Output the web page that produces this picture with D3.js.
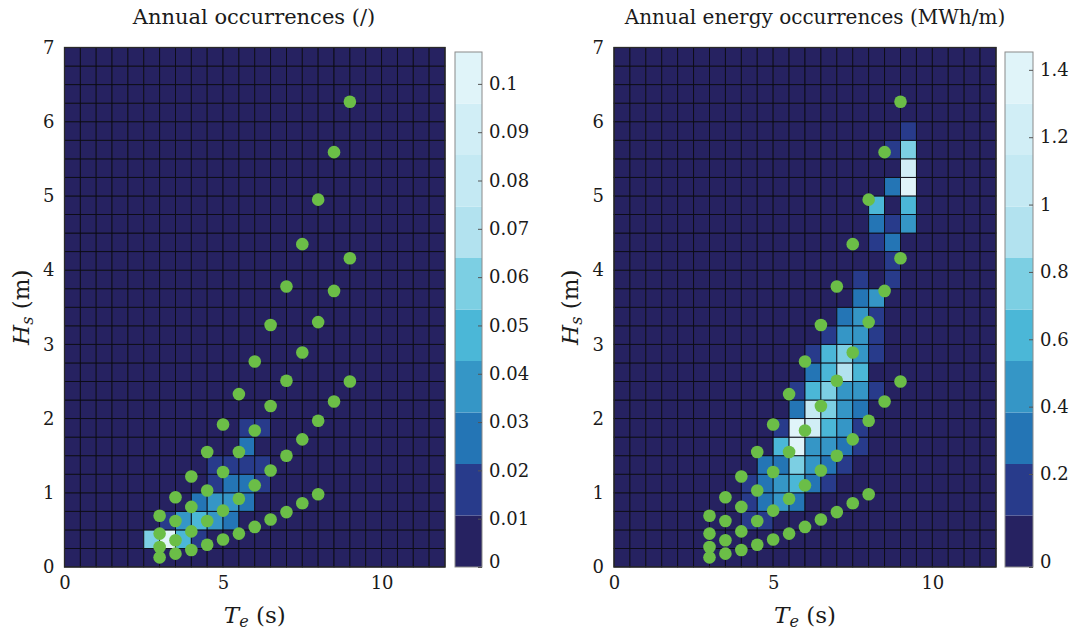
<!DOCTYPE html>
<html><head><meta charset="utf-8">
<script src="https://cdn.jsdelivr.net/npm/d3@7"></script>
<style>
body{margin:0;background:#fff}
svg{display:block}
text{font-family:"DejaVu Serif","Liberation Serif",serif;fill:#1a1a1a}
</style>
</head><body>
<svg id="c" width="1069" height="632"></svg>
<script>
// ---------- data ----------
const teBins = [0,0.5,1,1.5,2,2.5,3,3.5,4,4.5,5,5.5,6,6.5,7,7.5,8,8.5,9,9.5,10,10.5,11,11.5];
const hsBins = [0,0.25,0.5,0.75,1,1.25,1.5,1.75,2,2.25,2.5,2.75,3,3.25,3.5,3.75,4,4.25,4.5,4.75,5,5.25,5.5,5.75,6,6.25,6.5,6.75];
const teStep = 0.5, hsStep = 0.25;

// annual occurrences (/) : [Te lower edge, Hs lower edge, value]
const occCells = [
  [2.5,0.25,0.059],[3.0,0.25,0.1066],[3.5,0.25,0.048],[4.0,0.25,0.016],
  [3.0,0.5,0.016],[3.5,0.5,0.037],[4.0,0.5,0.048],[4.5,0.5,0.037],[5.0,0.5,0.027],
  [4.0,0.75,0.027],[4.5,0.75,0.037],[5.0,0.75,0.037],[5.5,0.75,0.027],
  [4.5,1.0,0.016],[5.0,1.0,0.027],[5.5,1.0,0.027],[6.0,1.0,0.016],
  [4.5,1.25,0.016],[5.0,1.25,0.016],[5.5,1.25,0.016],[6.0,1.25,0.016],
  [5.5,1.5,0.027],
  [5.5,1.75,0.016],[6.0,1.75,0.016]
];

// annual energy occurrences (MWh/m)
const energyCells = [
  [9.0,5.75,0.22],
  [8.5,5.5,0.22],[9.0,5.5,0.80],
  [9.0,5.25,1.30],
  [8.5,5.0,0.36],[9.0,5.0,1.36],
  [8.0,4.75,0.65],[9.0,4.75,0.65],
  [8.0,4.5,0.36],[8.5,4.5,0.22],[9.0,4.5,0.51],
  [8.0,4.25,0.22],[8.5,4.25,0.36],
  [8.5,4.0,0.22],
  [7.5,3.75,0.22],[8.5,3.75,0.22],
  [7.5,3.5,0.36],[8.0,3.5,0.51],
  [7.0,3.25,0.36],[7.5,3.25,0.51],[8.0,3.25,0.22],
  [6.5,3.0,0.22],[7.0,3.0,0.51],[7.5,3.0,0.51],[8.0,3.0,0.22],
  [6.0,2.75,0.22],[6.5,2.75,0.65],[7.0,2.75,0.80],[7.5,2.75,0.51],[8.0,2.75,0.22],
  [6.0,2.5,0.36],[6.5,2.5,0.65],[7.0,2.5,0.94],[7.5,2.5,0.65],
  [5.5,2.25,0.22],[6.0,2.25,0.65],[6.5,2.25,0.80],[7.0,2.25,0.51],[7.5,2.25,0.51],[8.0,2.25,0.22],
  [5.5,2.0,0.36],[6.0,2.0,1.09],[6.5,2.0,0.80],[7.0,2.0,0.51],[7.5,2.0,0.36],
  [5.0,1.75,0.22],[5.5,1.75,1.453],[6.0,1.75,1.25],[6.5,1.75,0.65],[7.0,1.75,0.51],[7.5,1.75,0.22],
  [5.0,1.5,0.65],[5.5,1.5,1.40],[6.0,1.5,0.51],[6.5,1.5,0.51],[7.0,1.5,0.36],[7.5,1.5,0.22],
  [4.5,1.25,0.36],[5.0,1.25,0.36],[5.5,1.25,0.80],[6.0,1.25,0.51],[6.5,1.25,0.36],[7.0,1.25,0.22],
  [4.0,1.0,0.22],[4.5,1.0,0.36],[5.0,1.0,0.51],[5.5,1.0,0.65],[6.0,1.0,0.36],[6.5,1.0,0.22],
  [4.0,0.75,0.22],[4.5,0.75,0.36],[5.0,0.75,0.51],[5.5,0.75,0.36],
  [4.0,0.5,0.22],[4.5,0.5,0.22]
];

// representative sea states (green dots)
const stateTe = [
  3,3.5,4,4.5,5,5.5,6,6.5,7,7.5,8,8.5,9,
  3,3.5,4,4.5,5,5.5,6,6.5,7,7.5,8,8.5,9,
  3,3.5,4,4.5,5,5.5,6,6.5,7,7.5,8,8.5,9,
  3,3.5,4,4.5,5,5.5,6,6.5,7,7.5,8
];
const stateHs = [
  0.69,0.94,1.22,1.55,1.92,2.33,2.77,3.26,3.78,4.35,4.95,5.59,6.27,
  0.45,0.62,0.81,1.03,1.28,1.55,1.84,2.17,2.51,2.89,3.30,3.72,4.16,
  0.27,0.36,0.48,0.62,0.76,0.92,1.10,1.30,1.50,1.72,1.97,2.23,2.50,
  0.13,0.18,0.23,0.30,0.37,0.45,0.54,0.64,0.74,0.86,0.98
];

const xTicks = [0,5,10];
const yTicks = [0,1,2,3,4,5,6,7];
const occTicks = [0,0.01,0.02,0.03,0.04,0.05,0.06,0.07,0.08,0.09,0.1];
const occTickLabels = ["0","0.01","0.02","0.03","0.04","0.05","0.06","0.07","0.08","0.09","0.1"];
const energyTicks = [0,0.2,0.4,0.6,0.8,1,1.2,1.4];
const energyTickLabels = ["0","0.2","0.4","0.6","0.8","1","1.2","1.4"];
const occRange = [0, 0.1066];
const energyRange = [0, 1.453];
// colour-bar tick placement (value -> position breakpoints)
const occBarStops = [0, 0.1066];
const energyBarStops = [0, 0.2, 1.453];

const palette = ["#262261","#283b8b","#2475b5","#3596c6","#4bb7d7","#7ccfe3","#b2e2ef","#c4e9f3","#d1eef6","#e0f4f9"];

// ---------- drawing ----------
const svg = d3.select("#c");
const yTop = 47.5, yBot = 567, cbTop = 52;
const FONT = "DejaVu Serif";

function panel(opt){
  const x = d3.scaleLinear().domain([0,12]).range([opt.x0, opt.x1]);
  const y = d3.scaleLinear().domain([0,7]).range([yBot, yTop]);
  const color = d3.scaleQuantize().domain(opt.range).range(palette);
  const g = svg.append("g");

  const lookup = new Map(opt.cells.map(c => [c[0]+"_"+c[1], c[2]]));
  const grid = [];
  hsBins.forEach(h => teBins.forEach(t => grid.push([t,h, lookup.has(t+"_"+h) ? lookup.get(t+"_"+h) : 0])));
  g.selectAll("rect.cell").data(grid).join("rect")
    .attr("x", d => x(d[0])).attr("y", d => y(d[1]+hsStep))
    .attr("width", d => x(d[0]+teStep)-x(d[0]))
    .attr("height", d => y(d[1])-y(d[1]+hsStep))
    .attr("fill", d => color(d[2]))
    .attr("stroke", "#0c0c14").attr("stroke-width", 0.9);

  g.append("rect").attr("x", opt.x0).attr("y", yTop).attr("width", opt.x1-opt.x0).attr("height", yBot-yTop)
    .attr("fill","none").attr("stroke","#2a2a2a").attr("stroke-width",1.3);

  g.selectAll("circle").data(stateTe.map((t,i)=>[t,stateHs[i]])).join("circle")
    .attr("cx", d=>x(d[0])).attr("cy", d=>y(d[1])).attr("r", 6.3)
    .attr("fill","#6bbe47");

  const xa = d3.axisBottom(x).tickValues(xTicks).tickSize(0).tickPadding(9).tickFormat(d3.format("d"));
  const ga = g.append("g").attr("transform",`translate(0,${yBot})`).call(xa);
  ga.select(".domain").remove();
  ga.selectAll("text").attr("font-size",18).attr("font-family",FONT).attr("fill","#1a1a1a");
  const ya = d3.axisLeft(y).tickValues(yTicks).tickSize(0).tickPadding(10).tickFormat(d3.format("d"));
  const gy = g.append("g").attr("transform",`translate(${opt.x0},0)`).call(ya);
  gy.select(".domain").remove();
  gy.selectAll("text").attr("font-size",18).attr("font-family",FONT).attr("fill","#1a1a1a");

  g.append("text").attr("x",opt.titleX).attr("y",24).attr("text-anchor","middle")
    .attr("font-size",opt.titleSize).text(opt.title);

  const xl = g.append("text").attr("x",(opt.x0+opt.x1)/2).attr("y",623).attr("text-anchor","middle").attr("font-size",23);
  xl.append("tspan").attr("font-style","italic").text("T");
  xl.append("tspan").attr("font-style","italic").attr("font-size",16).attr("dy",4).text("e");
  xl.append("tspan").attr("dy",-4).text(" (s)");

  const yl = g.append("text").attr("transform",`translate(${opt.x0-36},${(yTop+yBot)/2}) rotate(-90)`)
    .attr("text-anchor","middle").attr("font-size",23);
  yl.append("tspan").attr("font-style","italic").text("H");
  yl.append("tspan").attr("font-style","italic").attr("font-size",16).attr("dy",4).text("s");
  yl.append("tspan").attr("dy",-4).text(" (m)");

  // colour bar: equal bands
  const cb = svg.append("g");
  const band = d3.scaleLinear().domain([0, palette.length]).range([yBot, cbTop]);
  cb.selectAll("rect.band").data(palette).join("rect")
    .attr("x", opt.cbx).attr("width", opt.cbw)
    .attr("y", (c,i)=>band(i+1))
    .attr("height", (c,i)=>band(i)-band(i+1))
    .attr("fill", c=>c);
  cb.append("rect").attr("x",opt.cbx).attr("y",cbTop).attr("width",opt.cbw).attr("height",yBot-cbTop)
    .attr("fill","none").attr("stroke","#8a8a8a").attr("stroke-width",1);
  const cyRange = opt.stops.map((v,i)=> i===0 ? yBot : (i===opt.stops.length-1 ? cbTop : opt.stopPx[i]));
  const cy = d3.scaleLinear().domain(opt.stops).range(cyRange);
  const ca = d3.axisRight(cy).tickValues(opt.ticks).tickSize(-4).tickPadding(7)
    .tickFormat((d,i)=>opt.tickLabels[i]);
  const gc = cb.append("g").attr("transform",`translate(${opt.cbx+opt.cbw},0)`).call(ca);
  gc.select(".domain").remove();
  gc.selectAll("line").attr("stroke","#555");
  gc.selectAll("text").attr("font-size",18).attr("font-family",FONT).attr("fill","#1a1a1a");
  gc.selectAll(".tick").filter(d=>d===0).select("text").attr("dy","0.05em");
}

panel({x0:64.5, x1:445, cells:occCells, range:occRange, title:"Annual occurrences (/)", titleX:254, titleSize:21,
       cbx:455, cbw:27, ticks:occTicks, tickLabels:occTickLabels, stops:occBarStops, stopPx:[]});
panel({x0:614, x1:996, cells:energyCells, range:energyRange, title:"Annual energy occurrences (MWh/m)", titleX:815, titleSize:20,
       cbx:1005, cbw:28, ticks:energyTicks, tickLabels:energyTickLabels, stops:energyBarStops, stopPx:[null,474]});
</script>
</body></html>
